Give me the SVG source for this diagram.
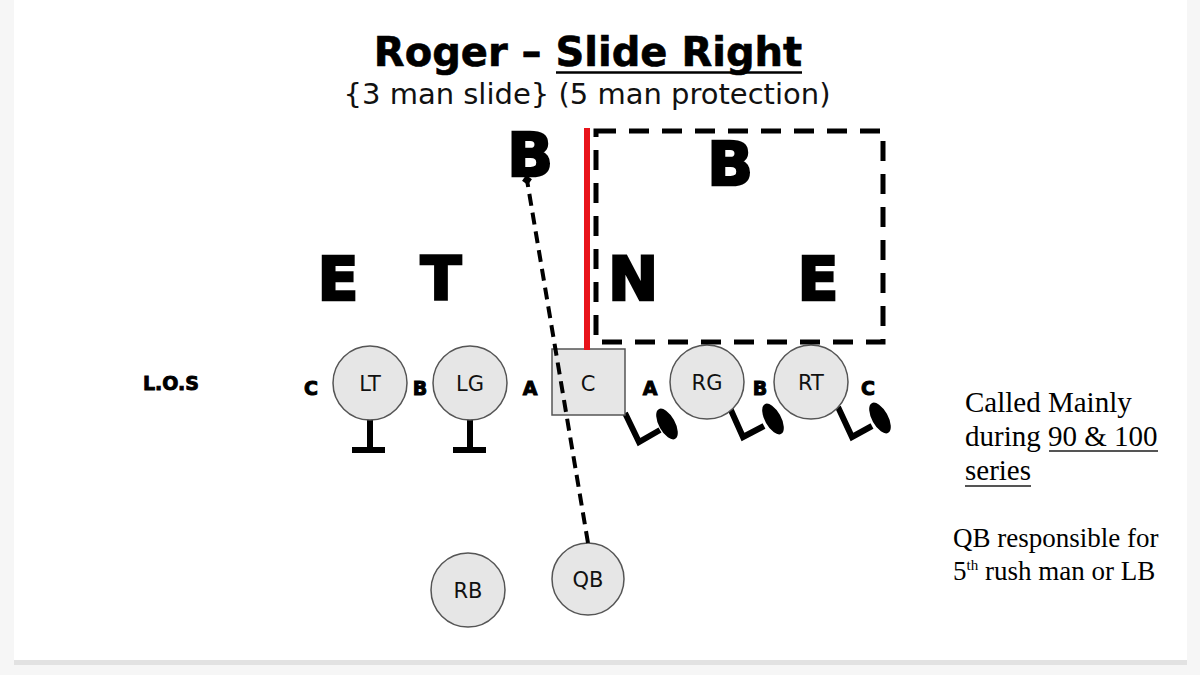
<svg xmlns="http://www.w3.org/2000/svg" width="1200" height="675" viewBox="0 0 1200 675">
<defs>
<style>
.big{font-family:"DejaVu Sans",Verdana,sans-serif;font-weight:bold;font-size:60px;fill:#000;stroke:#000;stroke-width:2.5;text-anchor:middle}
.gap{font-family:"DejaVu Sans",Verdana,sans-serif;font-weight:bold;font-size:19px;fill:#000;stroke:#000;stroke-width:1;text-anchor:middle}
.lbl{font-family:"DejaVu Sans",Verdana,sans-serif;font-size:21px;fill:#111;text-anchor:middle}
.pl{fill:#e6e6e6;stroke:#555;stroke-width:1.5}
.note{font-family:"Liberation Serif","Times New Roman",serif;fill:#000}
.blk{stroke:#000;stroke-width:6;fill:none}
.slide{stroke:#000;stroke-width:6;fill:none;stroke-linejoin:miter}
</style>
<marker id="dia" viewBox="0 0 10 10" refX="5" refY="5" markerWidth="10" markerHeight="10" markerUnits="userSpaceOnUse" orient="auto">
<path d="M0,5 L5,0 L10,5 L5,10 Z" fill="#000"/>
</marker>
</defs>
<rect x="0" y="0" width="1200" height="675" fill="#f6f6f6"/>
<rect x="14" y="0" width="1173" height="660" fill="#fff"/>
<rect x="14" y="660" width="1173" height="5" fill="#e2e2e2"/>

<g id="title">
<text x="588" y="66" font-family="'DejaVu Sans',Verdana,sans-serif" font-weight="bold" font-size="40" text-anchor="middle" fill="#000" stroke="#000" stroke-width="0.6">Roger – Slide Right</text>
<line x1="556" y1="72.5" x2="802" y2="72.5" stroke="#000" stroke-width="2.5"/>
<text x="587" y="104" font-family="'DejaVu Sans',Verdana,sans-serif" font-size="29" text-anchor="middle" fill="#111">{3 man slide} (5 man protection)</text>
</g>

<g id="defense">
<text class="big" x="530" y="176" font-size="56">B</text>
<text class="big" x="730" y="185" font-size="58">B</text>
<text class="big" x="338" y="300">E</text>
<text class="big" x="441" y="300">T</text>
<text class="big" x="633" y="300">N</text>
<text class="big" x="818" y="300">E</text>
</g>

<text id="los" x="171" y="390" font-family="'DejaVu Sans',Verdana,sans-serif" font-weight="bold" font-size="19" text-anchor="middle" fill="#000" stroke="#000" stroke-width="0.9">L.O.S</text>

<g id="gaps">
<text class="gap" x="311" y="395">C</text>
<text class="gap" x="420" y="395">B</text>
<text class="gap" x="530" y="395">A</text>
<text class="gap" x="650" y="395">A</text>
<text class="gap" x="760" y="395">B</text>
<text class="gap" x="868" y="395">C</text>
</g>

<g id="LT">
<path class="blk" d="M370,419 V450 M352,450 H385"/>
<circle class="pl" cx="370" cy="383" r="37"/>
<text class="lbl" x="370" y="391">LT</text>
</g>
<g id="LG">
<path class="blk" d="M470,419 V450 M453,450 H486"/>
<circle class="pl" cx="470" cy="383" r="37"/>
<text class="lbl" x="470" y="391">LG</text>
</g>
<g id="C">
<path class="slide" d="M625,413 L639,442 L660,430"/>
<ellipse cx="667" cy="424" rx="8" ry="17" transform="rotate(-29 667 424)" fill="#000"/>
<rect class="pl" x="552" y="349" width="73" height="66"/>
<text class="lbl" x="588" y="391">C</text>
</g>
<g id="RG">
<path class="slide" d="M730,408 L743,437 L764,426"/>
<ellipse cx="773" cy="419" rx="8" ry="17" transform="rotate(-29 773 419)" fill="#000"/>
<circle class="pl" cx="707" cy="382" r="37"/>
<text class="lbl" x="707" y="390">RG</text>
</g>
<g id="RT">
<path class="slide" d="M838,407 L852,437 L872,426"/>
<ellipse cx="880" cy="418" rx="8" ry="17" transform="rotate(-29 880 418)" fill="#000"/>
<circle class="pl" cx="811" cy="382" r="37"/>
<text class="lbl" x="811" y="390">RT</text>
</g>
<g id="RB">
<circle class="pl" cx="468" cy="590" r="37"/>
<text class="lbl" x="468" y="598">RB</text>
</g>
<g id="QB">
<circle class="pl" cx="588" cy="579" r="36"/>
<text class="lbl" x="588" y="587">QB</text>
</g>

<g id="connectors">
<rect x="596" y="131" width="287" height="211" fill="none" stroke="#000" stroke-width="5" stroke-dasharray="20 13"/>
<line x1="587" y1="128" x2="587" y2="350" stroke="#e8141b" stroke-width="6"/>
<line x1="588" y1="543" x2="527" y2="180" stroke="#000" stroke-width="4" stroke-dasharray="12 7" marker-end="url(#dia)"/>
</g>

<g id="notes">
<text class="note" x="965" y="412" font-size="29">Called Mainly</text>
<text class="note" x="965" y="446" font-size="29">during 90 &amp; 100</text>
<line x1="1049" y1="451" x2="1158" y2="451" stroke="#555" stroke-width="2"/>
<text class="note" x="965" y="480" font-size="29">series</text>
<line x1="965" y1="486" x2="1031" y2="486" stroke="#555" stroke-width="2"/>
<text class="note" x="953" y="547" font-size="27">QB responsible for</text>
<text class="note" x="953" y="580" font-size="27">5<tspan font-size="15" dy="-10">th</tspan><tspan dy="10"> rush man or LB</tspan></text>
</g>
</svg>
